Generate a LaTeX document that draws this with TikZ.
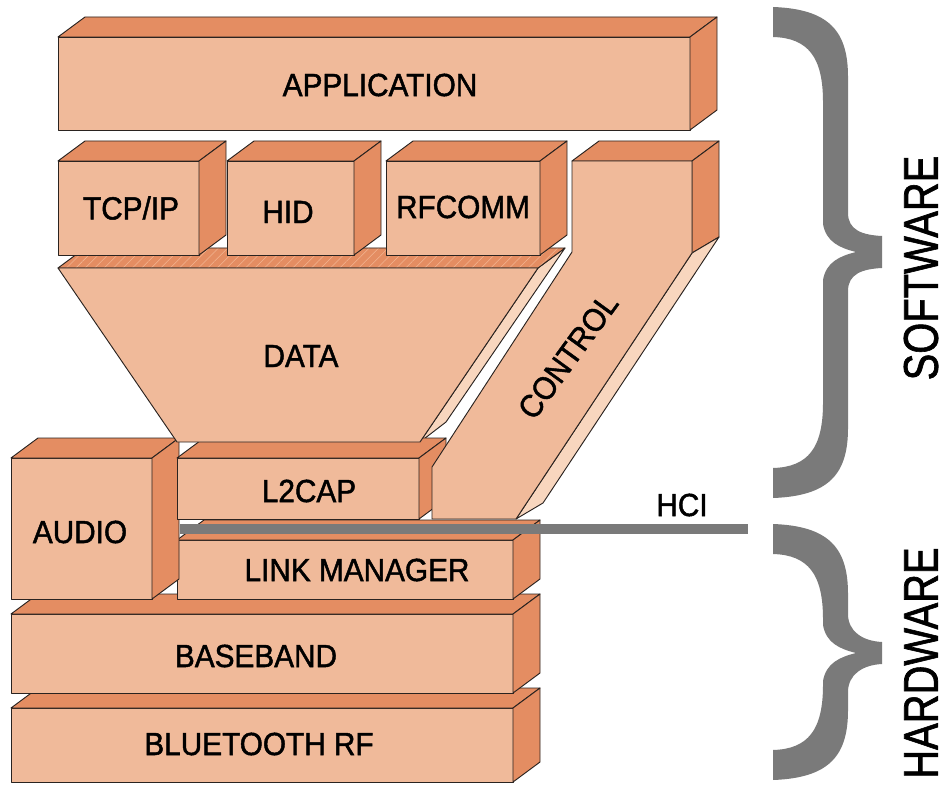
\documentclass[tikz,border=0pt]{standalone}
\usepackage{graphicx}
\usepackage{fontspec}
\setmainfont{Liberation Sans}
\newfontfamily\lblfont{Liberation Sans}[FakeBold=1.5]
\usetikzlibrary{patterns.meta}
\definecolor{frontc}{HTML}{F0BA9A}
\definecolor{darkc}{HTML}{E48D62}
\definecolor{lightc}{HTML}{F8D6BE}
\definecolor{hatchc}{HTML}{F2B592}
\definecolor{grayc}{HTML}{7A7A7A}
\definecolor{edgec}{HTML}{2A2320}
\tikzset{
  face/.style={draw=edgec, line width=0.7pt, line join=round},
  frontf/.style={face, fill=frontc},
  darkf/.style={face, fill=darkc},
  lightf/.style={face, fill=lightc},
  frontbox/.style={frontf, rectangle, inner sep=0pt, outer sep=0pt},
  lbl/.style={font=\lblfont\fontsize{24}{24}\selectfont, inner sep=0pt, text=black},
  biglbl/.style={font=\lblfont\fontsize{36.5}{36.5}\selectfont, inner sep=0pt, text=black, rotate=90},
  bracef/.style={fill=grayc, draw=none},
}
% name, x1, y1, x2, y2  (pixel units, y downwards)
\newcommand{\cuboid}[5]{%
  \node[frontbox, minimum width={(#4-#2)*0.75pt}, minimum height={(#5-#3)*0.75pt}] (#1) at ({(#2+#4)/2},{(#3+#5)/2}) {};
  \draw[darkf] (#1.north west) -- ++(27,-20) -- ++({#4-#2},0) -- (#1.north east) -- cycle;
  \draw[darkf] (#1.north east) -- ++(27,-20) -- ++(0,{#5-#3}) -- (#1.south east) -- cycle;
}
% brace: top, bottom, middle, tip half height
\newcommand{\bigbrace}[4]{%
  \fill[bracef] (773,#1) .. controls (830,#1+2) and (848,#1+25) .. (848,#1+70)
    -- (848,#3-39) .. controls (848,#3-22) and (862,#3-#4-1) .. (882,#3-#4)
    -- (882,#3+#4) .. controls (862,#3+#4+1) and (848,#3+22) .. (848,#3+39)
    -- (848,#2-70) .. controls (848,#2-25) and (830,#2-2) .. (773,#2)
    -- (773,#2-30) .. controls (808,#2-31) and (823,#2-50) .. (823,#2-95)
    -- (823,#3+28) .. controls (826,#3+10) and (840,#3+4) .. (856,#3)
    .. controls (840,#3-4) and (826,#3-10) .. (823,#3-28)
    -- (823,#1+95) .. controls (823,#1+50) and (808,#1+31) .. (773,#1+30) -- cycle;
}
\begin{document}
\begin{tikzpicture}[x=0.75pt, y=-0.75pt]
\useasboundingbox (0,0) rectangle (944,787);

% braces
\bigbrace{7}{498}{252}{16}
\bigbrace{524}{780}{653}{11}

% application
\cuboid{app}{58}{37}{690}{130}

% data funnel: side sliver and hatched top
\draw[lightf] (538,268) -- (565,248) -- (446,422) -- (420,442) -- cycle;
\draw[face, preaction={fill=darkc}, pattern={Lines[angle=45,distance=5pt,line width=0.4pt]}, pattern color=hatchc]
  (58,268) -- (85,248) -- (565,248) -- (538,268) -- cycle;

% upper protocol boxes
\cuboid{tcp}{58}{161}{199}{255}
\cuboid{hid}{227}{161}{354}{255}
\cuboid{rfc}{386}{161}{540}{255}

% lower stack
\cuboid{rf}{11}{708}{513}{782}
\cuboid{bb}{11}{614}{513}{693}
\cuboid{lm}{177}{540}{513}{599}
\cuboid{aud}{11}{458}{152}{599}
\cuboid{l2}{177}{458}{419}{519}

% data funnel front
\draw[frontf] (58,268) -- (538,268) -- (420,442) -- (177,442) -- cycle;

% control column
\draw[darkf] (572,161) -- (692,161) -- (719,141) -- (599,141) -- cycle;
\draw[darkf] (692,161) -- (719,141) -- (719,237) -- (692,253) -- cycle;
\draw[lightf] (692,253) -- (719,237) -- (543,503) -- (516,519) -- cycle;
\draw[frontf] (572,161) -- (692,161) -- (692,253) -- (516,519) -- (432,519) -- (432,467) -- (572,252) -- cycle;

% HCI bar
\coordinate (hciA) at (180,529);
\coordinate (hciB) at (748,529);
\draw[grayc, line width=7.5pt] (hciA) -- (hciB);

% labels
\node[lbl] (appL) at (380,85) {\scalebox{0.93}[1]{APPLICATION}};
\node[lbl] (tcpL) at (131,208) {\scalebox{0.93}[1]{TCP/IP}};
\node[lbl] (hidL) at (288,212) {\scalebox{0.93}[1]{HID}};
\node[lbl] (rfcL) at (463,207) {\scalebox{0.93}[1]{RFCOMM}};
\node[lbl] (dataL) at (301,356) {\scalebox{0.93}[1]{DATA}};
\node[lbl, rotate=54] (ctlL) at (568,356) {\scalebox{0.93}[1]{CONTROL}};
\node[lbl] (audL) at (80,532) {\scalebox{0.93}[1]{AUDIO}};
\node[lbl] (l2L) at (309,491) {\scalebox{0.93}[1]{L2CAP}};
\node[lbl] (lmL) at (357,570) {\scalebox{0.93}[1]{LINK MANAGER}};
\node[lbl] (bbL) at (256,656) {\scalebox{0.93}[1]{BASEBAND}};
\node[lbl] (rfL) at (259,744) {\scalebox{0.93}[1]{BLUETOOTH RF}};
\node[lbl] (hciL) at (682,505) {\scalebox{0.93}[1]{HCI}};
\node[biglbl] (swL) at (921,268) {\scalebox{0.82}[1]{SOFTWARE}};
\node[biglbl] (hwL) at (921,663) {\scalebox{0.82}[1]{HARDWARE}};
\end{tikzpicture}
\end{document}
